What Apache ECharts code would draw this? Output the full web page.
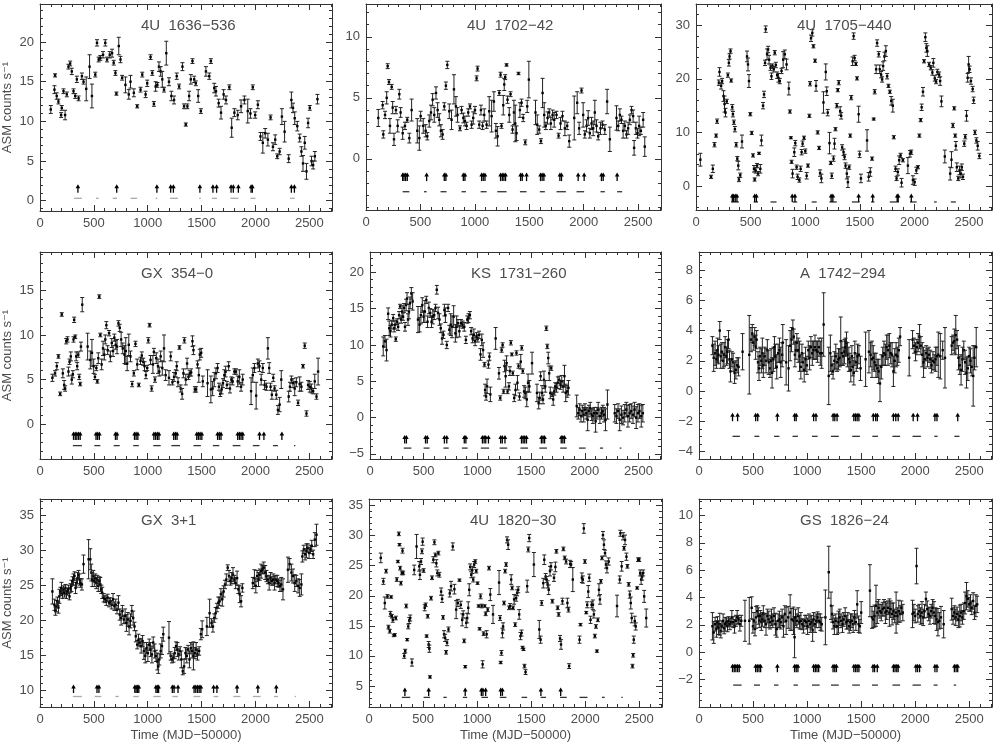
<!DOCTYPE html>
<html>
<head>
<meta charset="utf-8">
<script src="https://cdn.jsdelivr.net/npm/echarts@6/dist/echarts.min.js"></script>
<style>
  html, body { margin: 0; padding: 0; background: #fff; }
  #chart { width: 994px; height: 743px; }
</style>
</head>
<body>
<div id="chart"></div>
<script>
// panel titles
const titles = ['4U  1636\u2212536', '4U  1702\u221242', '4U  1705\u2212440',
  'GX  354\u22120', 'KS  1731\u2212260', 'A  1742\u2212294',
  'GX  3+1', '4U  1820\u221230', 'GS  1826\u221224'];

// x ticks (MJD-50000)
const xTickLabels = [0, 500, 1000, 1500, 2000, 2500];

// y axis ranges and labelled ticks, per panel
const yRanges = [[-1.3, 24.8], [-4.2, 12.7], [-4.5, 34], [-3.9, 19.3], [-5.7, 22.8], [-4.5, 9.2], [7.6, 37.3], [1.5, 36.1], [-4.0, 11.2]];
const yTickLabels = [[0, 5, 10, 15, 20], [0, 5, 10], [0, 10, 20, 30], [0, 5, 10, 15], [-5, 0, 5, 10, 15, 20],
  [-4, -2, 0, 2, 4, 6, 8], [10, 15, 20, 25, 30, 35], [5, 10, 15, 20, 25, 30, 35], [-2, 0, 2, 4, 6, 8, 10]];
const yMinorSteps = [1, 1, 2, 1, 1, 0.5, 1, 1, 0.5];

// [time, rate, error]
const p1Points = [[100,11.5,0.5],[134,14.0,0.5],[140,15.8,0.2],[155,13.2,0.4],[171,12.5,0.3],[196,10.8,0.3],[202,11.7,0.3],[218,13.8,0.3],[233,10.8,0.6],[249,13.4,0.3],[264,16.9,0.3],[280,17.3,0.3],[295,16.3,0.4],[311,13.8,0.3],[327,13.2,0.3],[342,15.3,0.4],[358,12.9,0.3],[389,15.7,0.4],[404,15.0,0.3],[429,14.1,1.5],[460,16.9,1.5],[482,13.2,1.5],[513,15.9,0.3],[529,19.9,0.4],[544,17.8,0.3],[560,18.0,0.3],[585,18.4,0.4],[606,19.9,0.4],[622,17.8,0.3],[647,18.4,0.4],[669,18.6,0.5],[684,17.4,0.3],[700,16.1,0.3],[709,13.5,0.2],[731,19.5,1.1],[747,17.8,0.4],[762,15.5,0.3],[793,14.6,1.0],[824,13.4,0.6],[840,15.0,0.8],[871,13.6,0.5],[902,11.9,0.2],[933,14.0,0.3],[949,15.9,0.3],[980,13.4,0.4],[995,14.8,0.4],[1026,18.1,0.3],[1042,16.1,0.3],[1057,12.2,0.3],[1073,14.4,0.6],[1089,14.6,0.3],[1104,16.9,0.6],[1120,16.3,0.6],[1135,15.3,1.0],[1151,14.0,0.3],[1172,18.6,1.5],[1197,15.0,0.5],[1219,13.2,0.6],[1244,12.7,0.5],[1269,15.7,0.4],[1291,14.4,0.3],[1322,16.9,0.5],[1337,11.9,0.3],[1353,9.6,0.2],[1368,11.9,0.3],[1384,13.2,0.6],[1400,15.3,0.6],[1415,17.6,0.3],[1431,15.3,0.4],[1446,14.8,0.3],[1468,13.2,0.8],[1493,11.3,0.3],[1540,16.3,0.6],[1571,15.7,0.4],[1586,17.6,0.3],[1617,14.2,0.6],[1633,13.8,0.6],[1658,12.3,0.5],[1680,11.1,0.8],[1704,13.4,0.6],[1726,12.7,0.5],[1757,14.3,0.3],[1779,9.2,1.2],[1804,11.1,0.5],[1835,10.8,0.6],[1866,11.9,0.8],[1897,12.7,0.5],[1928,11.3,1.5],[1953,11.0,0.6],[1975,14.3,0.3],[1997,10.8,0.4],[2022,12.1,0.5],[2046,8.1,0.5],[2068,7.3,1.3],[2090,8.5,0.6],[2115,7.7,0.8],[2140,10.5,0.3],[2162,6.8,0.5],[2183,7.7,0.6],[2202,5.6,0.3],[2224,6.2,0.4],[2245,10.6,1.0],[2270,8.7,1.3],[2308,5.3,0.5],[2333,12.7,1.0],[2348,11.7,0.6],[2364,10.4,0.8],[2388,9.4,0.6],[2410,7.9,0.5],[2426,6.2,0.6],[2441,4.7,1.0],[2457,7.3,0.8],[2473,3.7,1.0],[2488,9.8,0.6],[2504,11.7,0.3],[2520,5.0,0.6],[2535,4.5,0.5],[2551,5.6,0.6],[2575,12.8,0.6]];
const p2Points = [[113,3.35,0.7],[153,4.4,0.3],[159,2.0,0.3],[175,3.6,0.3],[190,5.0,0.5],[199,7.6,0.2],[211,6.3,0.2],[220,2.7,0.6],[236,5.9,0.2],[245,4.2,0.5],[257,1.6,0.5],[275,4.0,0.3],[291,2.7,0.5],[306,5.3,0.4],[318,3.8,0.4],[337,2.1,0.5],[358,2.7,0.3],[379,3.2,0.2],[398,1.7,0.4],[419,4.0,0.9],[471,2.3,1.0],[490,1.7,1.0],[502,3.5,0.4],[526,2.7,0.6],[548,2.3,0.5],[563,1.85,0.3],[581,3.1,0.5],[597,3.8,0.6],[612,4.85,0.5],[627,3.6,0.6],[643,5.4,0.5],[658,4.0,0.6],[673,3.2,0.5],[688,2.3,0.5],[704,2.0,0.4],[719,4.3,0.3],[734,6.0,0.3],[747,7.7,0.3],[765,3.9,0.6],[786,3.2,0.8],[808,5.7,1.2],[826,4.3,0.8],[841,3.6,0.6],[863,2.5,0.2],[878,4.0,0.3],[894,3.35,0.4],[909,3.1,0.4],[924,2.7,0.3],[939,3.8,0.3],[955,4.3,0.2],[970,2.8,0.3],[985,3.35,0.5],[1001,4.0,0.3],[1016,6.6,0.2],[1025,7.4,0.2],[1040,2.8,0.3],[1056,4.0,0.4],[1071,2.7,0.3],[1086,3.6,0.5],[1108,2.8,0.3],[1132,3.9,1.2],[1154,3.5,1.3],[1175,4.7,0.8],[1193,2.3,0.6],[1209,1.85,0.8],[1224,5.4,0.2],[1236,6.9,0.2],[1245,2.7,0.2],[1261,4.4,0.8],[1270,6.1,0.5],[1279,6.7,0.2],[1291,7.7,0.1],[1300,4.85,0.3],[1316,3.6,0.6],[1328,5.3,0.2],[1346,2.4,0.3],[1359,3.8,1.0],[1371,2.9,1.5],[1383,2.1,0.6],[1401,7.0,0.1],[1414,4.0,0.6],[1429,4.6,0.3],[1444,3.35,0.3],[1463,1.35,0.2],[1481,4.3,0.5],[1496,6.5,1.5],[1557,3.8,1.0],[1573,2.8,0.8],[1591,2.4,0.3],[1607,1.45,0.2],[1622,5.4,1.2],[1637,3.6,1.0],[1652,2.7,0.3],[1668,3.35,0.5],[1683,3.8,0.3],[1698,2.9,0.5],[1714,3.6,0.4],[1729,3.2,0.6],[1750,3.6,0.3],[1769,1.9,0.2],[1787,2.9,0.5],[1805,3.5,0.4],[1827,2.5,0.6],[1848,2.7,0.3],[1867,1.45,0.5],[1913,3.35,1.8],[1940,4.6,0.9],[1958,2.5,0.5],[1980,5.6,0.2],[1995,3.6,1.0],[2010,2.0,0.3],[2026,2.7,0.5],[2041,3.35,0.6],[2056,2.1,0.4],[2072,2.9,0.5],[2087,2.5,0.6],[2102,3.8,1.0],[2118,2.7,0.5],[2133,1.85,0.3],[2154,2.5,0.5],[2173,2.8,0.3],[2194,2.4,0.4],[2215,4.7,1.0],[2240,1.6,1.0],[2301,3.35,1.0],[2317,2.7,0.4],[2332,3.6,0.5],[2347,3.2,0.3],[2362,2.3,0.6],[2378,2.7,0.4],[2393,2.0,0.3],[2408,2.5,0.5],[2424,3.2,0.4],[2439,4.0,0.3],[2454,3.5,0.5],[2463,0.9,0.6],[2479,2.5,0.5],[2494,2.1,0.4],[2509,2.7,0.8],[2525,2.3,0.3],[2546,3.2,0.6],[2561,1.0,0.8]];
const p3Points = [[40,4.9,1.2],[138,1.7,0.3],[154,3.2,0.7],[169,7.7,0.4],[184,9.4,0.3],[193,12.1,0.4],[209,19.3,0.5],[215,21.3,0.8],[230,18.7,0.6],[239,19.6,0.5],[252,16.8,1.0],[261,15.3,1.5],[270,13.7,0.8],[282,15.8,0.4],[292,20.7,0.4],[301,23.0,0.6],[307,24.2,0.5],[316,25.2,0.4],[322,19.7,0.3],[332,14.7,0.5],[338,13.4,0.5],[347,11.9,0.4],[356,10.6,0.5],[368,7.7,0.4],[378,5.1,0.4],[387,3.8,0.8],[393,1.2,0.4],[405,2.0,0.4],[421,8.3,1.2],[467,24.2,1.0],[476,22.7,1.2],[485,19.6,1.2],[497,13.4,0.3],[510,9.9,0.3],[522,5.7,0.3],[531,3.2,0.6],[537,1.2,0.3],[546,2.9,0.5],[559,3.8,0.4],[568,2.3,0.4],[577,6.1,0.2],[589,3.2,0.8],[599,8.5,1.0],[614,15.0,0.6],[623,17.1,0.6],[632,23.0,0.5],[638,29.3,0.6],[651,24.6,1.0],[660,25.5,0.6],[669,23.6,0.8],[682,22.1,0.5],[691,20.5,0.6],[700,22.4,0.4],[712,21.8,0.5],[721,24.9,0.4],[731,22.6,0.5],[743,20.7,0.6],[755,20.2,0.8],[767,19.6,0.5],[783,21.5,0.5],[798,23.6,1.5],[813,24.6,0.8],[829,22.7,1.0],[850,18.2,1.2],[860,13.9,0.3],[869,9.0,0.2],[875,4.5,0.3],[884,2.3,0.8],[900,6.3,0.8],[909,8.0,0.5],[921,3.5,0.4],[930,1.7,0.5],[946,1.1,0.4],[958,3.2,0.5],[967,6.3,0.5],[976,7.9,0.5],[989,9.0,0.3],[1001,6.5,0.4],[1013,1.9,0.6],[1025,3.8,0.3],[1038,13.1,0.3],[1044,19.1,0.4],[1053,27.6,0.6],[1065,28.6,0.6],[1075,26.1,0.3],[1090,23.4,0.3],[1099,18.7,1.0],[1114,10.0,0.3],[1127,7.1,0.3],[1136,2.4,0.6],[1148,1.4,0.8],[1167,15.6,2.0],[1188,21.3,1.5],[1197,17.7,0.8],[1206,13.7,0.6],[1222,8.0,2.0],[1234,4.3,0.3],[1243,1.9,0.5],[1259,5.1,0.5],[1268,7.9,1.0],[1277,10.6,0.3],[1289,15.0,0.4],[1298,17.9,0.3],[1307,19.3,0.4],[1320,14.0,0.8],[1329,13.1,0.6],[1338,7.2,0.5],[1351,6.3,0.6],[1360,5.4,0.5],[1369,3.8,0.5],[1381,2.3,1.0],[1391,0.7,1.0],[1403,3.5,0.4],[1412,9.4,0.3],[1421,16.5,0.4],[1434,23.3,0.8],[1443,28.0,0.6],[1452,23.9,0.5],[1464,22.8,0.3],[1474,20.1,0.3],[1489,13.4,1.5],[1498,5.9,0.6],[1510,1.4,0.8],[1566,8.5,2.0],[1581,1.7,0.8],[1596,2.6,0.8],[1612,5.1,0.3],[1627,12.5,0.2],[1636,17.6,0.4],[1649,21.8,0.8],[1658,26.7,0.6],[1673,24.6,0.5],[1682,21.8,0.8],[1695,20.8,0.6],[1704,19.9,0.5],[1713,22.4,0.8],[1725,24.2,0.8],[1738,25.2,1.0],[1750,20.5,0.5],[1762,18.7,0.3],[1775,17.6,0.3],[1787,15.9,0.8],[1802,15.0,1.2],[1811,9.1,0.3],[1827,3.2,0.5],[1836,1.4,0.4],[1848,2.6,0.6],[1860,4.8,0.8],[1873,5.7,0.4],[1882,0.6,0.8],[1894,4.8,0.3],[1940,3.8,1.5],[1959,6.0,0.6],[1971,6.3,0.4],[1986,1.1,0.8],[2002,0.7,0.6],[2017,2.9,0.6],[2032,3.5,0.3],[2045,9.4,0.3],[2057,12.3,0.3],[2066,14.7,0.6],[2078,17.6,0.8],[2088,23.3,0.3],[2100,27.8,0.8],[2109,25.8,0.8],[2118,25.2,1.0],[2134,22.7,0.4],[2149,22.1,0.4],[2164,21.2,0.5],[2173,23.0,0.8],[2186,20.1,0.5],[2198,19.5,0.4],[2210,21.3,0.5],[2226,20.8,0.5],[2235,19.6,0.8],[2247,15.8,1.0],[2278,5.5,1.2],[2327,2.3,1.2],[2339,4.9,1.5],[2352,11.3,0.4],[2364,14.5,0.3],[2373,9.4,0.3],[2379,7.5,0.8],[2388,3.5,0.8],[2401,1.4,0.4],[2413,2.9,0.8],[2425,2.3,0.8],[2434,3.5,0.6],[2444,1.7,0.5],[2456,7.9,0.5],[2465,9.2,0.4],[2477,13.1,1.0],[2487,20.2,0.8],[2496,22.7,1.5],[2505,21.8,0.6],[2517,19.6,0.6],[2533,18.1,0.5],[2542,16.0,0.6],[2554,10.0,0.4],[2567,8.5,0.5],[2579,7.5,0.8],[2594,5.6,0.5]];
const p4Points = [[115,5.2,0.4],[140,5.7,0.3],[156,6.5,0.4],[171,7.6,0.2],[187,3.4,0.2],[202,12.3,0.2],[212,5.7,0.5],[224,4.4,0.5],[233,4.0,0.3],[243,9.3,0.3],[255,9.5,0.3],[264,5.9,0.5],[274,7.0,0.3],[286,7.6,0.5],[295,5.0,0.5],[305,5.6,0.4],[311,9.5,0.3],[317,11.7,0.3],[327,9.8,0.2],[336,7.6,0.5],[345,6.5,0.4],[355,7.8,0.3],[364,5.3,0.3],[373,4.5,0.2],[380,8.7,0.5],[392,13.4,0.8],[442,8.7,1.5],[467,7.2,1.0],[482,8.0,1.5],[498,6.5,0.8],[510,5.3,0.3],[523,6.3,0.3],[532,4.8,0.2],[541,7.4,0.6],[550,14.3,0.2],[560,10.0,0.2],[572,6.7,0.6],[585,8.5,0.8],[597,7.8,0.6],[606,9.5,0.5],[616,11.1,0.4],[628,8.3,0.5],[641,10.2,0.3],[653,7.6,0.6],[666,9.1,0.5],[678,8.2,0.6],[690,9.7,0.4],[703,8.9,0.5],[715,8.7,0.8],[728,11.3,0.3],[740,10.8,0.4],[753,9.5,0.8],[768,8.5,0.6],[784,7.8,1.0],[796,8.2,1.5],[809,6.8,0.8],[824,8.9,1.2],[840,7.6,0.6],[855,4.5,0.3],[871,5.7,0.3],[886,9.0,0.3],[902,6.7,0.6],[917,4.4,0.2],[933,7.1,0.4],[945,7.7,0.4],[958,7.0,0.4],[970,6.5,0.5],[983,5.5,0.4],[995,6.3,0.3],[1005,9.4,0.3],[1017,11.1,0.2],[1026,7.2,0.5],[1036,4.0,0.3],[1048,6.7,1.0],[1057,8.1,0.4],[1067,5.0,0.3],[1079,7.4,0.6],[1095,6.5,0.8],[1107,5.9,0.5],[1120,7.6,0.6],[1135,6.3,0.8],[1151,8.5,1.5],[1166,5.5,0.6],[1197,5.2,0.8],[1213,7.6,0.5],[1229,4.7,0.3],[1244,5.3,0.5],[1260,5.7,0.4],[1269,6.5,0.5],[1281,4.7,0.5],[1294,8.6,0.2],[1306,4.0,0.4],[1319,3.4,0.6],[1331,5.7,0.5],[1340,9.4,0.3],[1353,5.0,0.6],[1365,6.8,0.6],[1378,5.3,0.3],[1390,5.7,0.3],[1403,5.8,0.4],[1415,9.3,0.6],[1424,8.3,0.5],[1437,3.9,0.3],[1449,3.9,0.3],[1462,6.7,0.4],[1474,5.5,0.8],[1483,7.8,0.6],[1496,8.0,0.5],[1511,4.8,0.6],[1555,4.6,1.5],[1586,3.9,1.5],[1602,4.0,0.8],[1617,5.0,0.8],[1633,5.7,0.6],[1648,6.3,0.5],[1661,4.2,0.4],[1673,3.4,0.3],[1686,3.9,0.5],[1698,4.6,0.5],[1711,5.5,0.6],[1723,5.9,0.6],[1735,4.4,0.4],[1751,6.5,0.5],[1763,4.0,0.5],[1776,5.0,0.3],[1788,4.8,0.4],[1804,5.9,0.3],[1819,5.9,0.3],[1835,4.8,0.6],[1850,5.3,0.8],[1866,4.2,0.5],[1881,5.0,0.6],[1959,3.7,1.5],[1975,5.5,0.8],[1990,6.3,0.5],[2006,3.2,1.5],[2022,6.8,0.5],[2037,6.5,0.6],[2053,5.0,0.6],[2068,6.3,0.5],[2084,4.4,0.5],[2102,4.2,0.4],[2115,8.5,1.2],[2127,6.3,0.6],[2140,4.2,0.4],[2152,3.3,0.5],[2165,5.2,0.4],[2177,4.0,0.3],[2193,3.3,0.5],[2208,1.6,0.5],[2224,2.2,0.8],[2239,5.0,1.0],[2308,3.1,0.6],[2320,4.2,0.5],[2333,5.0,0.4],[2348,4.6,0.5],[2364,4.0,0.8],[2379,4.7,0.5],[2395,2.4,0.3],[2410,4.5,0.8],[2426,4.2,0.5],[2441,6.5,0.2],[2457,8.8,0.3],[2473,1.2,0.3],[2488,4.4,0.5],[2504,4.2,0.6],[2519,4.0,0.5],[2535,3.7,0.3],[2550,4.8,0.8],[2566,3.1,0.3],[2581,5.9,1.5]];
const p5Points = [[123,9.8,1.3],[139,10.5,0.8],[154,9.3,1.5],[169,14.3,0.8],[179,12.3,1.0],[191,11.9,0.8],[203,12.8,0.6],[216,13.7,0.5],[225,12.3,0.5],[234,12.8,0.6],[240,10.8,0.3],[253,13.2,0.4],[262,12.5,0.5],[271,14.1,0.5],[280,15.3,0.3],[290,13.5,0.5],[299,14.6,0.8],[308,13.9,0.5],[317,15.1,0.6],[326,12.5,0.6],[336,15.5,0.8],[345,16.4,0.8],[354,13.5,0.8],[363,14.6,1.0],[373,15.8,0.8],[385,17.1,0.8],[397,16.0,1.2],[447,13.5,1.8],[462,12.8,1.0],[474,14.1,1.2],[487,15.5,1.0],[499,13.9,0.8],[511,14.6,1.5],[524,16.2,0.5],[536,13.2,0.8],[548,15.1,0.8],[561,14.4,0.6],[573,13.2,0.8],[585,13.9,1.0],[598,14.1,0.6],[610,15.1,0.5],[622,17.6,0.6],[634,14.4,0.8],[647,13.5,0.8],[659,12.3,0.6],[671,10.9,0.8],[684,11.4,0.5],[693,14.8,0.8],[702,14.1,1.0],[715,10.0,0.5],[727,15.1,0.5],[739,12.1,0.6],[752,12.8,1.5],[764,12.5,1.5],[779,13.9,1.5],[795,11.6,1.2],[807,12.5,1.5],[819,13.0,0.5],[832,11.9,0.8],[847,13.0,0.5],[862,12.8,0.5],[878,12.5,0.6],[893,10.7,0.5],[906,13.5,0.5],[918,13.7,0.6],[930,14.1,0.5],[942,11.9,0.5],[955,10.9,0.6],[967,11.4,0.8],[979,10.5,0.6],[992,11.2,0.5],[1004,10.9,0.5],[1016,11.4,0.5],[1029,8.7,0.8],[1041,10.7,0.8],[1053,9.3,1.0],[1066,7.3,0.3],[1072,3.8,0.8],[1081,2.9,0.5],[1090,4.3,1.0],[1103,7.3,0.5],[1112,8.4,0.5],[1121,3.2,1.0],[1170,10.9,1.5],[1201,6.1,0.8],[1213,2.7,0.3],[1226,9.3,0.3],[1235,10.0,0.3],[1244,3.6,0.3],[1253,7.1,0.8],[1263,5.7,1.5],[1272,7.5,1.0],[1281,3.6,0.3],[1294,4.3,0.5],[1303,6.4,0.6],[1312,10.3,0.3],[1321,8.7,0.2],[1330,6.1,0.3],[1343,2.7,0.5],[1355,3.8,0.8],[1364,8.9,0.3],[1373,4.8,1.0],[1383,7.1,0.3],[1392,2.9,0.5],[1404,7.7,1.0],[1413,9.6,0.3],[1423,6.4,0.3],[1435,3.6,0.8],[1447,3.4,0.8],[1460,2.5,1.0],[1472,4.8,1.2],[1484,4.3,0.8],[1509,7.5,1.5],[1555,3.4,1.2],[1571,2.0,0.8],[1580,2.7,0.8],[1589,5.7,0.6],[1602,3.4,1.0],[1611,2.5,0.6],[1620,5.2,1.2],[1632,4.3,0.8],[1642,12.3,0.3],[1651,9.8,0.3],[1660,8.2,0.8],[1669,6.1,1.0],[1679,3.4,0.8],[1688,6.8,0.3],[1697,3.2,0.3],[1706,2.5,0.8],[1716,3.6,0.5],[1725,4.3,0.5],[1737,4.1,0.6],[1749,4.8,0.8],[1762,5.2,0.5],[1774,4.5,0.6],[1786,5.0,0.8],[1799,4.3,0.8],[1811,5.7,1.5],[1823,3.4,1.2],[1836,3.6,0.8],[1848,4.1,1.0],[1925,1.6,1.5],[1940,0.6,0.8],[1953,1.1,0.8],[1965,0.2,0.8],[1977,0.9,0.8],[1990,0.4,1.0],[2002,1.1,0.8],[2014,0.6,0.8],[2027,-0.3,1.5],[2039,0.9,0.8],[2051,1.3,0.8],[2064,0.4,0.8],[2076,0.2,1.0],[2088,0.6,0.8],[2101,-0.5,1.5],[2113,0.6,0.8],[2125,1.1,1.0],[2141,0.2,1.0],[2156,0.6,0.8],[2168,0.9,0.8],[2180,0.4,1.0],[2193,-0.3,1.5],[2211,1.8,2.0],[2279,0.6,1.2],[2295,0.2,1.0],[2310,0.9,1.0],[2325,-0.3,1.5],[2341,0.4,1.2],[2356,0.0,1.0],[2372,0.6,1.2],[2387,1.1,1.0],[2402,0.2,1.5],[2418,0.6,1.2],[2433,0.9,1.0],[2449,0.4,1.2],[2464,1.1,1.0],[2479,0.0,1.5],[2495,0.6,1.2],[2510,0.9,1.0],[2526,0.2,1.5],[2541,0.6,1.2]];
const p6Points = [[124,3.0,0.6],[136,2.2,0.9],[149,2.5,0.8],[161,2.1,0.6],[171,2.7,0.8],[180,2.4,0.6],[192,4.0,0.6],[201,2.3,0.8],[211,2.6,0.6],[223,2.0,0.5],[232,2.4,0.8],[242,2.9,0.7],[254,2.3,0.6],[263,2.6,0.8],[273,3.4,0.6],[282,2.1,0.6],[291,1.3,0.7],[304,2.1,0.5],[316,1.9,0.6],[329,1.2,0.7],[341,1.4,0.6],[353,1.7,0.5],[366,1.6,0.6],[403,2.6,1.2],[465,2.4,2.6],[481,3.4,0.8],[493,3.8,0.6],[502,3.2,0.5],[515,3.6,0.6],[524,2.9,0.8],[533,3.4,0.6],[546,1.9,0.7],[555,1.5,0.8],[564,2.3,0.6],[577,2.0,0.8],[586,2.5,1.0],[595,1.7,0.8],[608,2.3,0.6],[620,2.0,0.8],[632,2.7,0.7],[645,1.9,0.8],[657,1.5,0.6],[667,2.0,0.8],[676,1.2,1.0],[688,2.1,0.8],[698,2.9,0.7],[707,2.3,0.8],[719,1.6,0.8],[732,2.5,0.6],[744,2.7,0.8],[756,1.9,1.0],[769,2.4,0.8],[775,3.2,1.2],[806,1.9,1.5],[828,1.5,1.5],[843,3.0,1.0],[856,3.4,0.8],[868,4.1,0.6],[877,3.6,0.5],[887,2.4,0.8],[896,2.7,0.6],[905,3.2,0.6],[918,2.7,0.8],[930,2.3,1.0],[942,1.6,0.8],[952,2.5,0.6],[961,1.9,0.6],[973,1.4,0.8],[986,2.1,0.8],[998,1.7,0.6],[1011,2.7,0.6],[1023,2.2,0.8],[1035,2.9,0.7],[1048,2.5,0.8],[1060,2.7,0.6],[1073,2.9,0.8],[1085,2.7,0.6],[1097,2.6,0.7],[1110,2.9,0.6],[1122,2.5,0.8],[1135,2.5,1.0],[1153,4.4,2.1],[1200,1.0,1.9],[1215,2.5,1.2],[1228,1.7,0.6],[1240,1.3,0.5],[1252,2.0,0.6],[1265,2.3,0.8],[1277,1.9,0.6],[1290,2.1,0.7],[1302,2.2,0.6],[1311,3.3,1.6],[1321,2.5,0.8],[1333,2.3,0.6],[1345,2.6,0.8],[1355,2.9,0.6],[1364,3.2,0.7],[1373,2.4,0.8],[1386,2.1,0.8],[1395,1.9,0.6],[1404,1.4,0.8],[1414,2.3,0.7],[1423,1.6,0.6],[1432,1.2,0.8],[1441,2.5,0.8],[1454,1.9,0.6],[1466,2.3,0.8],[1479,2.4,0.6],[1494,1.5,0.8],[1541,2.1,1.8],[1572,2.6,1.4],[1587,2.4,0.8],[1600,2.1,1.2],[1612,2.2,0.8],[1624,1.9,0.6],[1637,1.7,0.8],[1649,1.5,0.6],[1662,1.3,0.8],[1674,0.5,1.2],[1686,1.6,0.8],[1699,2.3,0.6],[1711,2.5,0.8],[1724,2.4,0.7],[1736,2.9,0.8],[1748,2.7,1.0],[1761,3.0,0.8],[1773,2.5,0.7],[1786,2.4,0.8],[1798,1.3,1.0],[1810,2.0,0.8],[1823,2.4,0.8],[1835,2.3,0.6],[1848,2.7,0.8],[1860,3.6,0.6],[1944,2.2,1.2],[1975,3.4,0.6],[1990,3.0,0.5],[2003,2.6,0.6],[2015,2.9,0.5],[2027,3.2,0.6],[2040,3.6,0.8],[2052,3.0,0.6],[2065,2.4,0.8],[2077,1.9,1.0],[2089,2.1,0.6],[2102,2.5,0.5],[2114,2.2,0.6],[2127,2.4,0.5],[2139,2.1,0.6],[2151,1.7,0.5],[2164,2.0,0.6],[2176,1.9,0.5],[2189,2.1,0.8],[2201,2.3,0.6],[2213,2.4,1.5],[2232,2.3,1.5],[2254,2.7,0.6],[2275,2.2,2.0],[2337,3.0,0.6],[2350,3.2,0.5],[2362,3.3,0.8],[2375,3.7,1.3],[2387,3.4,0.6],[2400,2.2,0.8],[2412,1.7,0.6],[2424,1.4,1.0],[2437,2.1,0.8],[2449,2.7,0.6],[2461,1.9,0.8],[2474,1.2,1.0],[2486,1.5,0.8],[2499,2.3,0.6],[2511,2.0,0.8],[2524,1.6,0.6],[2536,1.0,2.0],[2548,2.2,0.8],[2564,2.9,1.3]];
const p7Points = [[115,24.1,1.8],[134,22.2,0.8],[143,21.3,0.6],[152,22.0,0.8],[162,22.7,0.6],[171,21.8,0.8],[180,23.4,1.0],[190,24.1,0.6],[199,24.6,0.8],[208,23.7,0.6],[218,24.4,0.5],[227,23.9,0.6],[236,24.6,0.5],[246,23.7,0.6],[255,24.1,0.5],[264,24.4,0.6],[274,23.4,0.5],[283,24.6,0.6],[292,24.9,0.8],[302,25.6,0.6],[311,25.8,0.8],[320,26.3,0.6],[330,24.6,0.8],[339,25.3,0.6],[348,26.0,0.8],[358,26.5,0.6],[367,25.8,0.8],[376,25.3,0.6],[389,25.1,0.8],[404,28.0,1.3],[451,28.7,2.8],[467,28.7,1.5],[476,26.8,1.2],[485,25.8,1.0],[495,26.3,0.8],[504,25.6,0.8],[513,26.0,0.6],[523,25.3,0.8],[532,25.8,0.6],[541,24.9,0.8],[551,25.6,0.6],[560,25.1,1.0],[569,24.4,0.6],[578,23.9,0.8],[591,23.2,0.6],[603,23.0,0.5],[616,22.7,0.6],[628,23.2,0.5],[641,22.5,0.6],[653,22.7,0.5],[666,22.2,0.6],[678,23.0,0.8],[690,22.0,0.6],[703,22.2,0.8],[715,21.5,0.6],[728,22.5,1.0],[740,20.8,0.8],[753,20.3,1.0],[765,21.3,0.8],[778,20.1,0.6],[790,20.6,1.0],[802,19.6,1.2],[815,20.1,1.0],[827,19.1,1.2],[840,19.9,1.0],[852,21.3,0.8],[865,20.3,1.0],[877,19.1,0.6],[889,17.7,0.8],[902,16.5,0.6],[914,17.2,0.8],[927,16.8,0.6],[939,16.3,1.0],[952,17.0,0.8],[964,15.6,1.2],[977,14.9,1.0],[989,16.0,0.8],[1001,15.3,1.2],[1014,16.5,0.8],[1026,15.8,1.0],[1039,15.1,1.2],[1051,16.8,0.8],[1064,15.6,1.0],[1076,14.9,0.8],[1089,14.1,1.2],[1098,13.4,1.0],[1107,14.4,0.8],[1120,15.6,1.0],[1132,16.3,1.2],[1144,18.0,1.0],[1197,17.5,2.3],[1213,14.9,0.6],[1225,14.4,0.5],[1238,14.6,0.6],[1250,15.3,0.8],[1263,16.3,0.6],[1275,15.8,1.0],[1288,15.1,0.8],[1300,15.6,0.6],[1312,14.4,1.2],[1325,12.7,0.5],[1337,13.4,1.0],[1350,15.3,0.8],[1362,14.9,1.0],[1375,15.8,0.6],[1387,14.4,1.2],[1400,16.0,0.8],[1412,15.6,1.0],[1424,14.9,2.0],[1437,15.3,0.8],[1449,15.8,1.0],[1462,15.1,0.8],[1477,15.6,0.6],[1493,18.0,0.8],[1505,18.7,1.2],[1549,19.1,1.3],[1574,21.0,2.0],[1592,19.6,0.6],[1605,19.1,0.8],[1617,20.3,0.6],[1630,21.0,0.8],[1642,21.8,0.6],[1655,22.5,0.8],[1667,22.7,0.6],[1679,23.7,0.8],[1692,23.0,1.0],[1704,24.1,0.8],[1717,25.1,0.6],[1729,25.8,0.8],[1742,27.5,0.4],[1754,26.3,0.8],[1767,25.6,0.6],[1779,26.0,0.8],[1791,26.5,1.0],[1804,25.8,0.6],[1816,25.3,0.8],[1829,26.0,1.0],[1841,24.4,0.6],[1853,23.7,1.2],[1866,22.7,0.8],[1878,24.6,0.6],[1975,25.3,0.8],[1990,26.0,1.2],[2003,24.9,1.0],[2015,26.3,0.8],[2028,25.8,1.0],[2040,26.5,0.8],[2053,27.0,1.0],[2065,27.2,0.6],[2077,27.5,0.8],[2090,26.8,1.0],[2102,26.3,0.8],[2115,25.8,0.6],[2127,25.3,1.0],[2140,26.0,0.8],[2152,25.6,0.6],[2164,25.8,0.8],[2177,25.3,1.0],[2189,25.8,0.6],[2202,25.6,0.8],[2214,25.3,0.6],[2227,24.9,0.8],[2239,25.1,1.0],[2255,24.4,1.5],[2301,27.2,1.8],[2317,28.0,0.8],[2333,26.8,1.2],[2348,26.3,1.0],[2364,25.3,1.2],[2379,25.6,0.8],[2395,24.9,1.0],[2410,24.6,1.2],[2426,25.1,1.5],[2435,29.1,0.8],[2448,30.1,0.6],[2460,29.4,0.8],[2473,29.9,1.0],[2485,30.3,0.6],[2497,29.6,0.8],[2510,30.1,0.6],[2522,30.6,0.8],[2535,29.4,0.6],[2551,31.5,1.0],[2566,32.2,1.5]];
const p8Points = [[109,26.3,0.8],[133,22.4,0.5],[146,18.8,1.0],[158,24.1,0.3],[171,19.9,0.3],[180,14.8,0.3],[192,14.1,0.3],[198,17.0,0.4],[205,19.8,0.2],[211,16.6,0.3],[220,16.0,0.4],[229,13.4,0.2],[239,13.5,0.2],[248,16.3,0.3],[257,22.7,0.3],[267,25.7,0.2],[276,30.3,0.3],[282,28.5,0.2],[288,24.6,0.3],[295,22.1,0.3],[304,23.8,0.3],[310,27.5,0.4],[316,23.8,0.3],[326,10.0,0.4],[335,10.8,0.3],[344,18.3,0.3],[353,12.7,0.2],[363,14.9,0.4],[372,15.9,0.5],[381,16.3,0.5],[397,8.9,0.6],[418,24.3,0.8],[440,28.2,2.0],[465,24.9,0.8],[471,23.5,0.8],[481,25.7,0.5],[490,27.4,0.4],[496,29.0,0.6],[505,24.2,0.3],[515,18.0,0.5],[524,18.5,0.3],[533,13.3,0.2],[543,16.6,0.3],[552,11.9,0.5],[558,11.2,0.6],[564,6.5,0.2],[574,19.6,0.3],[583,23.0,0.3],[595,26.0,0.5],[605,28.9,0.4],[614,26.8,0.3],[623,25.4,0.6],[632,23.8,0.5],[642,27.1,0.3],[651,23.5,0.4],[667,20.7,0.6],[676,19.5,0.6],[685,16.4,0.3],[694,13.6,0.6],[704,13.0,0.6],[713,10.6,0.3],[722,12.2,0.5],[735,14.4,0.4],[747,20.4,0.6],[759,21.6,0.8],[775,28.2,0.6],[790,21.1,0.8],[806,17.7,1.5],[822,18.8,0.6],[837,22.6,0.2],[849,18.5,0.6],[862,16.0,1.0],[871,16.9,0.6],[880,12.5,0.3],[890,8.2,0.2],[899,15.5,0.8],[908,16.3,0.8],[918,18.0,1.0],[927,21.0,1.0],[936,24.8,0.5],[946,23.5,0.5],[955,24.3,0.6],[964,22.7,0.4],[973,25.2,0.5],[983,25.7,0.3],[992,24.1,0.3],[1004,22.1,0.2],[1014,18.3,0.2],[1023,14.5,0.2],[1032,19.9,0.4],[1042,18.3,0.3],[1051,8.6,0.6],[1060,13.7,0.3],[1070,18.3,0.2],[1079,17.0,0.3],[1088,13.6,0.6],[1098,17.7,0.3],[1110,24.6,0.3],[1122,20.2,1.0],[1147,16.9,1.5],[1203,22.2,2.0],[1212,16.3,0.4],[1218,8.9,0.2],[1225,10.5,0.4],[1234,13.8,0.8],[1240,14.9,0.6],[1249,18.8,0.3],[1259,24.1,0.3],[1268,25.2,0.3],[1277,29.3,0.5],[1287,28.5,0.8],[1296,18.0,0.3],[1305,18.3,0.4],[1315,22.7,0.8],[1324,21.3,0.3],[1333,18.0,0.3],[1342,19.4,0.8],[1352,15.2,0.3],[1361,19.6,0.5],[1370,20.5,0.5],[1380,21.0,0.5],[1389,16.9,0.8],[1401,13.3,0.6],[1411,13.8,0.5],[1420,11.4,0.2],[1429,11.1,0.2],[1438,8.3,0.3],[1448,7.3,0.4],[1463,21.6,1.0],[1473,27.7,0.4],[1482,29.6,0.6],[1525,25.2,2.0],[1575,14.4,1.5],[1587,12.7,0.6],[1597,18.8,0.4],[1612,22.1,0.8],[1621,26.0,0.8],[1634,23.2,0.5],[1643,22.7,0.5],[1652,21.9,0.6],[1662,21.0,0.8],[1674,24.1,0.8],[1683,24.9,0.6],[1696,19.1,0.3],[1711,23.0,0.6],[1724,24.8,0.8],[1733,27.4,0.3],[1745,18.0,0.3],[1754,16.9,0.3],[1767,12.9,0.5],[1776,11.9,0.8],[1789,19.1,0.5],[1798,27.8,0.3],[1810,26.3,0.3],[1823,25.7,0.4],[1835,18.8,0.8],[1845,17.7,0.4],[1851,8.3,0.4],[1860,25.3,0.6],[1869,25.2,0.5],[1885,22.7,2.0],[1947,12.7,0.6],[1956,15.2,0.2],[1969,23.0,0.8],[1978,22.7,0.6],[1987,31.2,0.8],[1997,25.7,0.3],[2009,17.2,0.2],[2018,18.5,0.5],[2028,20.7,1.0],[2037,23.0,0.6],[2049,16.0,0.6],[2059,18.5,0.5],[2071,18.5,0.8],[2080,16.9,0.6],[2089,13.3,0.3],[2099,14.9,0.3],[2108,10.8,0.2],[2117,16.0,0.3],[2127,21.0,1.0],[2136,19.4,0.8],[2145,22.4,0.3],[2155,26.3,0.3],[2164,30.1,0.6],[2173,28.5,0.8],[2183,27.1,0.5],[2192,25.2,0.6],[2201,24.6,0.8],[2217,25.7,0.6],[2294,18.3,1.8],[2319,22.7,0.6],[2325,30.4,0.5],[2337,24.9,0.8],[2350,29.9,0.6],[2359,27.9,0.3],[2368,29.3,0.8],[2381,26.5,0.6],[2390,24.9,0.3],[2402,21.9,0.3],[2412,20.2,0.6],[2421,18.8,1.0],[2430,16.3,0.8],[2437,8.3,0.3],[2443,10.1,0.3],[2449,12.7,0.6],[2458,15.8,0.8],[2467,14.9,0.6],[2480,21.3,0.2],[2489,26.0,0.3],[2499,26.0,0.3],[2508,23.8,0.5],[2517,22.7,0.8],[2527,23.2,0.6],[2536,23.8,0.5],[2545,19.9,1.0],[2564,16.3,1.5]];
const p9Points = [[124,1.9,1.0],[136,1.45,0.8],[149,2.05,0.5],[161,1.7,0.6],[171,2.2,0.4],[180,1.8,0.5],[192,2.05,0.8],[202,1.55,0.5],[211,1.9,0.4],[223,2.3,0.5],[233,1.75,0.4],[242,2.05,0.5],[254,2.2,0.3],[264,1.9,0.4],[273,2.3,0.3],[285,2.05,0.4],[295,2.2,0.3],[304,2.55,0.5],[316,2.2,0.4],[329,1.9,0.5],[341,2.3,0.4],[353,2.55,0.5],[366,2.4,0.3],[378,2.05,0.5],[391,2.3,0.4],[425,2.3,1.5],[465,2.3,1.7],[487,3.25,0.8],[499,1.9,0.5],[508,2.3,0.6],[518,1.7,0.5],[527,2.55,0.8],[539,3.0,0.4],[549,2.65,0.6],[558,2.3,0.5],[567,2.65,0.4],[577,2.2,0.6],[586,2.4,0.5],[595,2.8,0.6],[608,2.3,0.5],[620,2.05,0.8],[632,2.65,0.5],[645,2.4,0.6],[657,2.2,0.5],[670,2.55,0.6],[682,2.3,0.5],[694,2.65,0.6],[707,2.05,0.8],[719,1.7,0.6],[732,2.3,0.5],[744,2.4,0.6],[756,2.2,0.5],[769,2.55,0.6],[781,1.9,0.8],[794,2.8,0.6],[806,2.3,1.0],[825,2.55,0.8],[843,2.9,1.3],[859,2.4,0.8],[874,2.3,1.0],[884,1.1,1.5],[893,2.55,0.6],[905,2.3,0.5],[918,2.65,0.6],[930,2.2,0.5],[942,2.3,0.6],[955,2.05,0.4],[967,1.9,0.5],[980,2.3,0.4],[992,2.2,0.5],[1004,1.9,0.6],[1017,2.3,0.5],[1029,2.05,0.6],[1042,2.2,0.5],[1051,1.6,0.8],[1060,2.4,0.5],[1073,2.05,0.6],[1085,2.3,0.5],[1097,2.55,0.4],[1110,2.3,0.5],[1122,2.2,0.6],[1135,2.05,0.5],[1169,2.55,2.0],[1200,5.85,1.9],[1221,3.4,1.0],[1231,2.8,0.6],[1240,2.2,0.5],[1252,1.9,0.6],[1265,2.3,0.5],[1277,1.9,0.6],[1290,2.2,0.8],[1302,2.55,0.6],[1314,2.3,0.5],[1327,2.05,0.6],[1339,2.4,0.5],[1352,2.65,0.6],[1364,2.2,0.5],[1376,2.3,0.6],[1389,1.9,0.5],[1401,2.2,0.6],[1414,2.3,0.5],[1426,2.05,0.6],[1438,2.55,0.5],[1451,2.2,0.6],[1463,3.5,1.0],[1476,2.05,0.6],[1488,1.9,0.5],[1500,2.9,0.8],[1581,4.5,1.9],[1600,2.55,0.8],[1612,2.4,0.6],[1624,2.65,0.8],[1637,3.4,1.5],[1649,2.9,0.8],[1662,3.25,0.6],[1674,3.0,0.5],[1686,2.9,0.6],[1699,3.15,0.5],[1711,3.25,0.6],[1724,2.9,0.8],[1736,3.0,0.6],[1748,3.25,0.5],[1761,2.9,1.0],[1773,3.15,0.6],[1786,2.8,0.8],[1798,3.0,0.6],[1810,2.65,0.5],[1823,2.9,1.5],[1835,2.65,0.6],[1848,3.0,0.8],[1860,2.8,0.6],[1872,3.25,0.5],[1885,2.9,0.6],[1975,2.8,1.0],[1987,2.9,0.6],[2000,2.65,0.5],[2012,6.3,1.3],[2024,2.8,0.6],[2037,3.0,0.5],[2049,2.65,0.6],[2062,2.9,0.8],[2074,2.55,0.6],[2086,3.0,0.5],[2099,3.9,0.5],[2111,3.15,0.6],[2124,2.8,0.5],[2136,2.65,0.6],[2148,3.0,0.5],[2161,3.25,0.6],[2173,2.9,0.8],[2186,2.65,0.6],[2198,2.4,0.8],[2210,2.2,1.0],[2223,2.3,0.6],[2238,2.55,0.8],[2263,2.05,1.0],[2337,3.15,0.8],[2350,2.65,0.6],[2362,2.9,0.5],[2375,2.55,0.6],[2387,2.8,0.5],[2399,2.4,0.6],[2412,2.65,0.8],[2424,2.9,0.6],[2436,2.55,0.5],[2449,3.0,0.6],[2461,3.6,0.8],[2474,4.1,1.0],[2486,3.9,0.6],[2499,3.5,0.5],[2511,3.6,0.6],[2523,3.25,0.5],[2536,3.75,0.6],[2548,2.9,0.5],[2561,3.4,0.8],[2573,3.5,0.6]];

// arrow times, per panel
const p1Arrows = [352,712,1085,1213,1238,1484,1605,1639,1773,1794,1841,1959,1971,2333,2361];
const p2Arrows = [337,349,364,379,557,719,734,894,909,1062,1077,1093,1236,1252,1267,1282,1420,1435,1475,1603,1618,1634,1781,1796,1949,2004,2163,2179,2307];
const p3Arrows = [332,344,359,375,537,553,881,906,1237,1253,1489,1618,1842,1851,1971];
const p4Arrows = [311,327,342,358,373,520,535,551,700,715,877,892,908,1057,1073,1089,1104,1241,1257,1272,1455,1470,1486,1502,1648,1664,1680,1835,1851,1866,1882,2037,2078,2245];
const p5Arrows = [323,339,517,533,693,715,878,893,1047,1063,1078,1103,1217,1232,1257,1411,1426,1441,1457,1596,1611,1626,1781,1796,1811];
const p6Arrows = [310,357,524,543,725,884,899,1060,1082,1240,1256,1277,1432,1448,1463,1479,1612,1634,1649,1798,1820,1842,1981,2021,2182,2201,2393];
const p7Arrows = [311,529,547,880,892,905,917,1076,1089,1101,1228,1244,1281,1430,1446,1462,1477,1493,1611,1642,1829,2022,2193];
const p8Arrows = [332,552,890,1039,1054,1079,1218,1234,1590,1773];
const p9Arrows = [310,326,341,357,372,524,539,555,570,725,884,899,915,1060,1076,1091,1107,1240,1256,1271,1432,1448,1463,1479,1609,1624,1649,1798,1813,1829,1842,2006,2021,2040,2182,2201,2362,2378,2393];
const arrowLevels = [1.0, -1.83, -3.0, -1.76, -3.57, -2.0, 9.6, 3.35, -1.46];

// [start, end] of the horizontal dashes, per panel
const p1Dashes = [[317,389],[520,545],[675,715],[840,902],[1073,1089],[1207,1281],[1477,1493],[1595,1642],[1767,1841],[1953,2000],[2320,2364]];
const p2Dashes = [[337,398],[533,557],[685,740],[878,918],[1053,1108],[1206,1291],[1414,1475],[1597,1643],[1750,1836],[1934,2004],[2154,2194],[2307,2353]];
const p3Dashes = [[322,393],[528,568],[682,737],[884,927],[1059,1105],[1222,1289],[1427,1498],[1602,1633],[1774,1857],[1959,2020],[2180,2204],[2333,2379]];
const p4Dashes = [[305,389],[504,560],[684,740],[865,917],[1051,1120],[1219,1300],[1424,1493],[1604,1664],[1788,1860],[1975,2037],[2162,2208],[2357,2370]];
const p5Dashes = [[314,385],[499,554],[684,733],[856,909],[1032,1109],[1207,1278],[1401,1472],[1577,1648],[1771,1833],[1946,2008],[2141,2171],[2325,2341]];
const p6Dashes = [[310,378],[512,558],[694,744],[865,915],[1045,1097],[1221,1293],[1417,1488],[1603,1655],[1789,1860],[1975,2052],[2176,2207],[2362,2409]];
const p7Dashes = [[305,389],[507,569],[700,731],[865,917],[1051,1120],[1228,1281],[1424,1487],[1611,1655],[1794,1860],[1975,2047],[2171,2208],[2364,2376]];
const p8Dashes = [[304,381],[505,564],[688,719],[868,908],[1039,1101],[1209,1271],[1411,1463],[1587,1637],[1767,1829],[1947,2021],[2155,2180],[2334,2347]];
const p9Dashes = [[316,394],[508,564],[694,735],[874,915],[1045,1116],[1221,1293],[1417,1488],[1600,1655],[1789,1860],[1975,2052],[2170,2207],[2356,2378]];
const dashLevels = [0.3, -2.7, -3.0, -2.4, -4.2, -3.0, 9.1, 3.1, -2.4];

const allPoints = [p1Points, p2Points, p3Points, p4Points, p5Points, p6Points, p7Points, p8Points, p9Points];
const allArrows = [p1Arrows, p2Arrows, p3Arrows, p4Arrows, p5Arrows, p6Arrows, p7Arrows, p8Arrows, p9Arrows];
const allDashes = [p1Dashes, p2Dashes, p3Dashes, p4Dashes, p5Dashes, p6Dashes, p7Dashes, p8Dashes, p9Dashes];

// layout
const boxes = [
  {left: 40, top: 4, width: 292, height: 207},
  {left: 366, top: 4, width: 295, height: 206},
  {left: 696, top: 4, width: 296, height: 206},
  {left: 40, top: 252, width: 292, height: 207},
  {left: 370, top: 252, width: 291, height: 207},
  {left: 699, top: 252, width: 293, height: 207},
  {left: 40, top: 499, width: 292, height: 209},
  {left: 369, top: 499, width: 293, height: 209},
  {left: 699, top: 499, width: 293, height: 209}
];
const X_MAX = 2710;
const frameColor = '#333';
const textColor = '#4d4d4d';
const font = 'Liberation Sans, DejaVu Sans, sans-serif';
const grayDash = [true, false, false, false, false, false, true, false, false];

function steps(lo, hi, step) {
  const out = [];
  for (let v = Math.ceil(lo / step) * step; v <= hi + 1e-9; v += step) out.push(+v.toFixed(3));
  return out;
}
const fmt = v => String(v).replace('-', '\u2212');

const chart = echarts.init(document.getElementById('chart'));

const grid = [], xAxis = [], yAxis = [], series = [], title = [];

boxes.forEach((b, i) => {
  grid.push(Object.assign({containLabel: false}, b));
  title.push({
    text: titles[i], left: b.left + 96, top: b.top + 9,
    textStyle: {fontSize: 15, fontWeight: 'normal', color: textColor, fontFamily: font}
  });
  const isBottom = i >= 6, isLeft = i % 3 === 0;
  const xMinor = steps(0, X_MAX, 100);
  const [y0, y1] = yRanges[i];
  const yMinor = steps(y0, y1, yMinorSteps[i]);
  const lineOn = {show: true, onZero: false, lineStyle: {color: frameColor, width: 1}};
  const lineOff = {show: false, onZero: false};
  const xBase = {gridIndex: i, type: 'value', min: 0, max: X_MAX, splitLine: {show: false}};
  const yBase = {gridIndex: i, type: 'value', min: y0, max: y1, splitLine: {show: false}};
  const tick = (vals, len) => ({show: true, inside: true, length: len, customValues: vals, lineStyle: {color: frameColor, width: 1}});
  const noLabel = {show: false};

  xAxis.push(Object.assign({}, xBase, {
    position: 'bottom', axisLine: lineOn, axisTick: tick(xTickLabels, 6),
    axisLabel: {show: true, customValues: xTickLabels, formatter: fmt, color: textColor, fontSize: 13, fontFamily: font, margin: 6},
    name: isBottom ? 'Time (MJD\u221250000)' : '', nameLocation: 'middle', nameGap: 22,
    nameTextStyle: {color: textColor, fontSize: 13, fontFamily: font}
  }));
  xAxis.push(Object.assign({}, xBase, {position: 'bottom', axisLine: lineOff, axisTick: tick(xMinor, 3), axisLabel: noLabel}));
  xAxis.push(Object.assign({}, xBase, {position: 'top', axisLine: lineOn, axisTick: tick(xTickLabels, 6), axisLabel: noLabel}));
  xAxis.push(Object.assign({}, xBase, {position: 'top', axisLine: lineOff, axisTick: tick(xMinor, 3), axisLabel: noLabel}));

  yAxis.push(Object.assign({}, yBase, {
    position: 'left', axisLine: lineOn, axisTick: tick(yTickLabels[i], 6),
    axisLabel: {show: true, customValues: yTickLabels[i], formatter: fmt, color: textColor, fontSize: 13, fontFamily: font, margin: 6},
    name: isLeft ? 'ASM counts s\u207B\u00B9' : '', nameLocation: 'middle', nameGap: 26,
    nameTextStyle: {color: textColor, fontSize: 13, fontFamily: font}
  }));
  yAxis.push(Object.assign({}, yBase, {position: 'left', axisLine: lineOff, axisTick: tick(yMinor, 3), axisLabel: noLabel}));
  yAxis.push(Object.assign({}, yBase, {position: 'right', axisLine: lineOn, axisTick: tick(yTickLabels[i], 6), axisLabel: noLabel}));
  yAxis.push(Object.assign({}, yBase, {position: 'right', axisLine: lineOff, axisTick: tick(yMinor, 3), axisLabel: noLabel}));

  const ax = {xAxisIndex: 4 * i, yAxisIndex: 4 * i};
  const dashColor = grayDash[i] ? '#aaa' : '#333';

  series.push(Object.assign({
    type: 'custom', silent: true, clip: true,
    data: allDashes[i].map(d => [d[0], d[1], dashLevels[i]]),
    encode: {x: [0, 1], y: 2},
    renderItem: (params, api) => {
      const a = api.coord([api.value(0), api.value(2)]);
      const c = api.coord([api.value(1), api.value(2)]);
      return {type: 'line', shape: {x1: a[0], y1: a[1], x2: c[0], y2: c[1]}, style: {stroke: dashColor, lineWidth: 1.3}};
    }
  }, ax));

  series.push(Object.assign({
    type: 'custom', silent: true, clip: true,
    data: allArrows[i].map(t => [t, arrowLevels[i]]),
    encode: {x: 0, y: 1},
    renderItem: (params, api) => {
      const p = api.coord([api.value(0), api.value(1)]);
      return {type: 'group', children: [
        {type: 'line', shape: {x1: p[0], y1: p[1], x2: p[0], y2: p[1] - 5}, style: {stroke: '#000', lineWidth: 1.3}},
        {type: 'polygon', shape: {points: [[p[0] - 2.3, p[1] - 4.5], [p[0] + 2.3, p[1] - 4.5], [p[0], p[1] - 8.5]]}, style: {fill: '#000'}}
      ]};
    }
  }, ax));

  series.push(Object.assign({
    type: 'custom', silent: true, clip: true,
    data: allPoints[i],
    encode: {x: 0, y: 1},
    renderItem: (params, api) => {
      const x = api.value(0), y = api.value(1), e = api.value(2);
      const hi = api.coord([x, y + e]), lo = api.coord([x, y - e]), c = api.coord([x, y]);
      const st = {stroke: '#222', lineWidth: 1};
      return {type: 'group', children: [
        {type: 'line', shape: {x1: hi[0], y1: hi[1], x2: lo[0], y2: lo[1]}, style: st},
        {type: 'line', shape: {x1: hi[0] - 2, y1: hi[1], x2: hi[0] + 2, y2: hi[1]}, style: st},
        {type: 'line', shape: {x1: lo[0] - 2, y1: lo[1], x2: lo[0] + 2, y2: lo[1]}, style: st},
        {type: 'rect', shape: {x: c[0] - 1.2, y: c[1] - 1.2, width: 2.4, height: 2.4}, style: {fill: '#000'}}
      ]};
    }
  }, ax));
});

chart.setOption({
  animation: false,
  backgroundColor: '#fff',
  title: title,
  grid: grid,
  xAxis: xAxis,
  yAxis: yAxis,
  series: series
});
</script>
</body>
</html>
